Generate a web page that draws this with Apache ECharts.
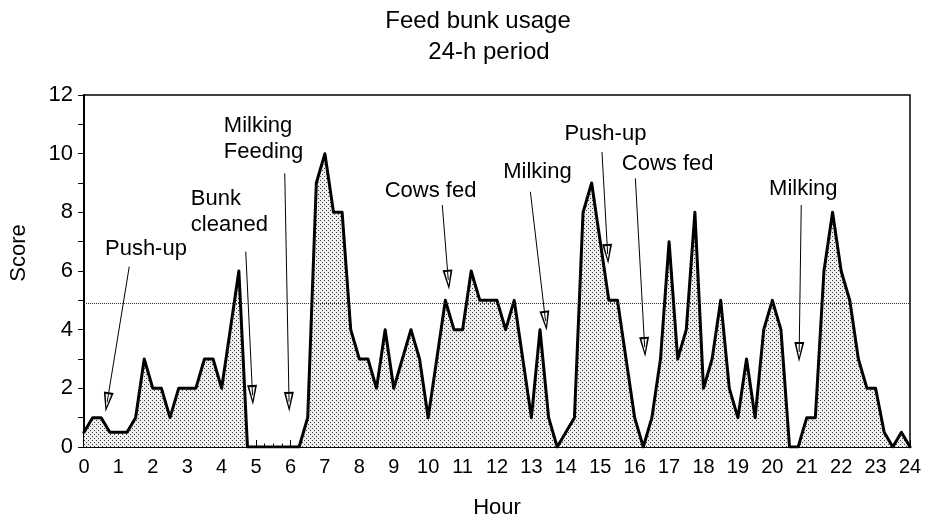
<!DOCTYPE html>
<html>
<head>
<meta charset="utf-8">
<script src="https://cdn.jsdelivr.net/npm/echarts@6/dist/echarts.min.js"></script>
<style>
html,body{margin:0;padding:0;background:#fff;}
#chart{width:931px;height:525px;}
</style>
</head>
<body>
<div id="chart"></div>
<script>
// ---- data ----
const hours = [0,0.25,0.5,0.75,1,1.25,1.5,1.75,2,2.25,2.5,2.75,3,3.25,3.5,3.75,4,4.25,4.5,4.75,
  5,5.25,5.5,5.75,6,6.25,6.5,6.75,7,7.25,7.5,7.75,8,8.25,8.5,8.75,9,9.25,9.5,9.75,
  10,10.25,10.5,10.75,11,11.25,11.5,11.75,12,12.25,12.5,12.75,13,13.25,13.5,13.75,
  14,14.25,14.5,14.75,15,15.25,15.5,15.75,16,16.25,16.5,16.75,17,17.25,17.5,17.75,
  18,18.25,18.5,18.75,19,19.25,19.5,19.75,20,20.25,20.5,20.75,21,21.25,21.5,21.75,
  22,22.25,22.5,22.75,23,23.25,23.5,23.75,24];
const scores = [
  0.5,1,1,0.5,   // 0
  0.5,0.5,1,3,   // 1
  2,2,1,2,       // 2
  2,2,3,3,       // 3
  2,4,6,0,       // 4
  0,0,0,0,       // 5
  0,0,1,9,       // 6
  10,8,8,4,      // 7
  3,3,2,4,       // 8
  2,3,4,3,       // 9
  1,3,5,4,       // 10
  4,6,5,5,       // 11
  5,4,5,3,       // 12
  1,4,1,0,       // 13
  0.5,1,8,9,     // 14
  7,5,5,3,       // 15
  1,0,1,3,       // 16
  7,3,4,8,       // 17
  2,3,5,2,       // 18
  1,3,1,4,       // 19
  5,4,0,0,       // 20
  1,1,6,8,       // 21
  6,5,3,2,       // 22
  2,0.5,0,0.5,   // 23
  0              // 24
];
const referenceLevel = 4.9;
const xTicks = ['0','1','2','3','4','5','6','7','8','9','10','11','12','13','14','15','16','17','18','19','20','21','22','23','24'];
const yTicks = ['0','2','4','6','8','10','12'];

// annotations (data coordinates: hour, score)
const annLabels = ['Push-up','Bunk\ncleaned','Milking\nFeeding','Cows fed','Milking','Push-up','Cows fed','Milking'];
const annTextAt = [[1.80,6.75],[3.105,8.02],[4.063,10.49],[10.07,8.73],[13.175,9.38],[15.15,10.67],[16.96,9.65],[20.90,8.80]];
const annAlign  = ['center','left','left','center','center','center','center','center'];
const annFrom   = [[1.315,6.15],[4.70,6.66],[5.833,9.33],[10.41,8.25],[12.97,8.70],[15.05,10.06],[16.02,9.16],[20.84,8.25]];
const annTo     = [[0.673,1.53],[4.896,1.77],[5.958,1.54],[10.584,5.70],[13.41,4.30],[15.215,6.58],[16.29,3.41],[20.78,3.24]];

// ---- styling ----
const FONT = "'Liberation Sans', Arial, Helvetica, sans-serif";
const pc = document.createElement('canvas');
pc.width = 4; pc.height = 4;
const pctx = pc.getContext('2d');
pctx.fillStyle = '#eeeeee'; pctx.fillRect(0,0,4,4);
pctx.fillStyle = '#3a3a3a'; pctx.fillRect(0,0,1,1); pctx.fillRect(2,2,1,1);

const arrowPath = 'path://M5,0L10,20L0,20Z M5,5L2.2,18L7.8,18Z';

const chart = echarts.init(document.getElementById('chart'), null, {renderer:'canvas'});
const option = {
  animation: false,
  backgroundColor: '#fff',
  graphic: [
    {type:'text', x:478, y:9, style:{text:'Feed bunk usage', font:'24px ' + FONT, fill:'#000', textAlign:'center', textVerticalAlign:'top'}},
    {type:'text', x:489, y:40, style:{text:'24-h period', font:'24px ' + FONT, fill:'#000', textAlign:'center', textVerticalAlign:'top'}}
  ],
  grid: {left:83, right:21, top:95, bottom:78, show:true, borderColor:'#000', borderWidth:1.5, backgroundColor:'transparent'},
  xAxis: {
    type:'value', min:0, max:24, interval:1,
    name:'Hour', nameLocation:'middle', nameGap:50,
    nameTextStyle:{fontFamily:FONT, fontSize:22, color:'#000'},
    axisLine:{show:true, onZero:false, lineStyle:{color:'#000', width:2}},
    axisTick:{show:true, inside:true, length:7, lineStyle:{color:'#000', width:1}},
    minorTick:{show:true, splitNumber:4, length:3.5, lineStyle:{color:'#000', width:1}},
    splitLine:{show:false}, minorSplitLine:{show:false},
    axisLabel:{fontFamily:FONT, fontSize:20, color:'#000', margin:10,
      formatter: v => xTicks[Math.round(v)] !== undefined ? xTicks[Math.round(v)] : ''}
  },
  yAxis: {
    type:'value', min:0, max:12, interval:2,
    name:'Score', nameLocation:'middle', nameGap:54,
    nameTextStyle:{fontFamily:FONT, fontSize:22, color:'#000', padding:[0,0,0,36]},
    axisLine:{show:true, onZero:false, lineStyle:{color:'#000', width:2}},
    axisTick:{show:true, inside:false, length:6, lineStyle:{color:'#000', width:1}},
    minorTick:{show:true, splitNumber:2, length:6, lineStyle:{color:'#000', width:1}},
    splitLine:{show:false}, minorSplitLine:{show:false},
    axisLabel:{fontFamily:FONT, fontSize:22, color:'#000', margin:11,
      formatter: v => yTicks[Math.round(v/2)] !== undefined ? yTicks[Math.round(v/2)] : ''}
  },
  series: [
    {
      type:'line', name:'Score', z:2,
      data: hours.map((h,i) => [h, scores[i]]),
      showSymbol:false, symbol:'none', silent:true,
      lineStyle:{color:'#000', width:3, join:'round', cap:'round'},
      areaStyle:{color:{image:pc, repeat:'repeat'}, opacity:1},
      markLine:{
        silent:true, symbol:'none', label:{show:false},
        lineStyle:{type:'dotted', color:'#333', width:1},
        data:[{yAxis: referenceLevel}]
      }
    },
    {
      type:'scatter', name:'notes', z:5, silent:true, symbolSize:0,
      itemStyle:{opacity:1},
      data: annLabels.map((t,i) => ({value: annTextAt[i], name: t, label:{align: annAlign[i]}})),
      label:{show:true, position:'inside', formatter: p => p.name, fontFamily:FONT, fontSize:22, lineHeight:26, color:'#000', opacity:1},
      markLine:{
        silent:true, symbol:['none', arrowPath], symbolSize:[10,20],
        label:{show:false},
        lineStyle:{color:'#000', width:1, type:'solid', opacity:1},
        data: annFrom.map((f,i) => [{coord:f}, {coord:annTo[i]}])
      }
    }
  ]
};
chart.setOption(option);
</script>
</body>
</html>
